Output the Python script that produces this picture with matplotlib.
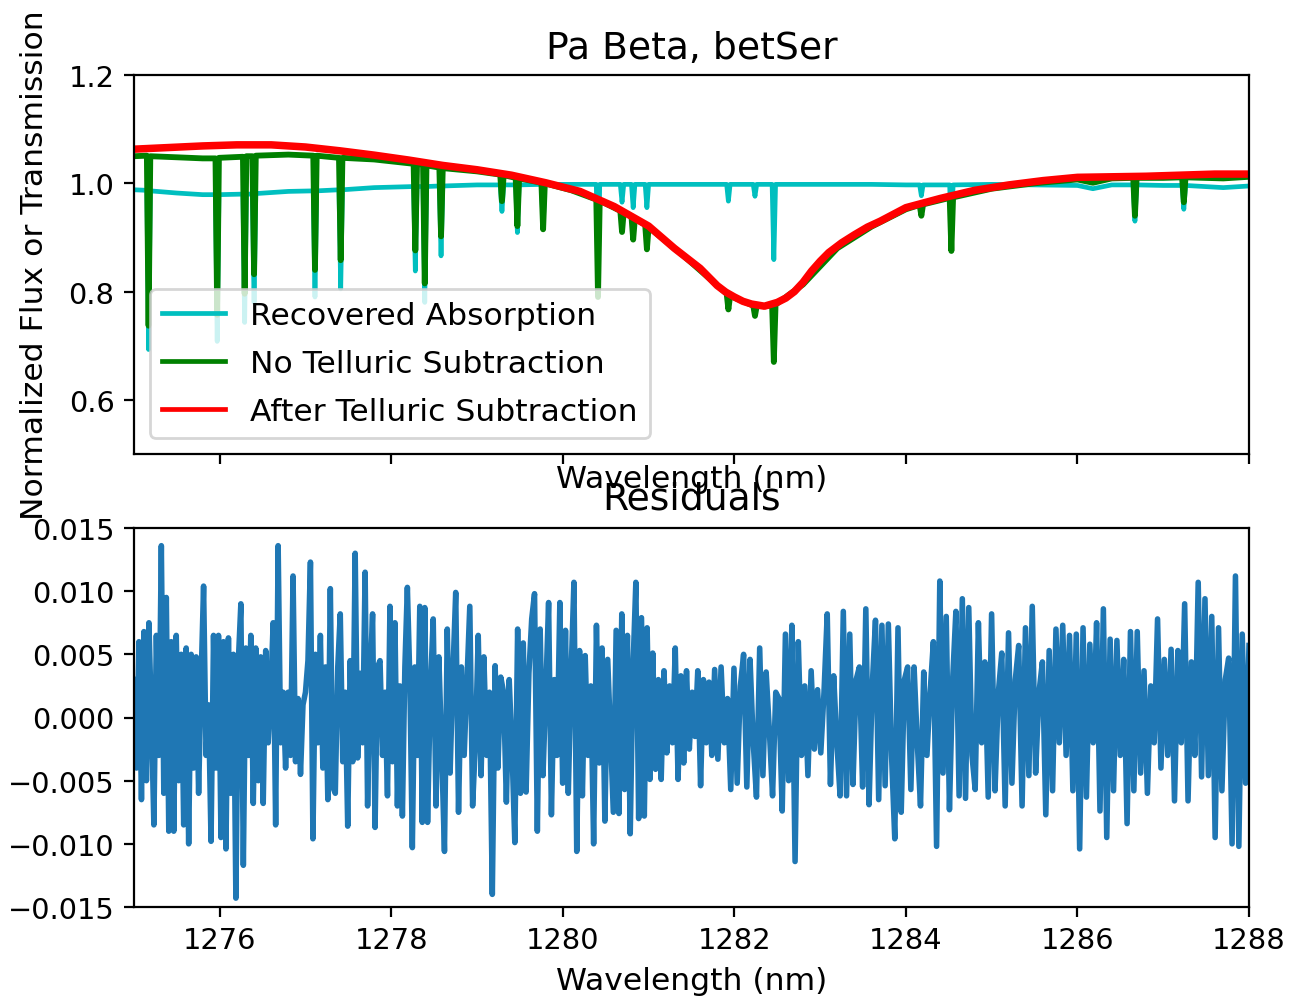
import matplotlib
matplotlib.use("Agg")
import matplotlib.pyplot as plt
import numpy as np

# ---------------- data ----------------
# Stellar spectrum after telluric correction (continuum + Pa beta line)
after_wl = [1275.0, 1275.4, 1275.8, 1276.2, 1276.6, 1277.0, 1277.4, 1277.8, 1278.2,
            1278.6, 1279.0, 1279.4, 1279.8, 1280.2, 1280.6, 1281.0, 1281.3, 1281.6,
            1281.8, 1281.9, 1282.0, 1282.1, 1282.2, 1282.35, 1282.5, 1282.6, 1282.7,
            1282.8, 1282.9, 1283.0, 1283.1, 1283.25, 1283.4, 1283.55, 1283.7, 1284.0,
            1284.4, 1284.8, 1285.2, 1285.6, 1286.0, 1286.4, 1286.8, 1287.2, 1287.6, 1288.0]
after_flux = [1.063, 1.066, 1.069, 1.071, 1.071, 1.067, 1.060, 1.052, 1.043,
              1.033, 1.025, 1.015, 1.001, 0.985, 0.957, 0.921, 0.880, 0.843,
              0.811, 0.799, 0.790, 0.782, 0.777, 0.773, 0.780, 0.788, 0.800,
              0.817, 0.838, 0.856, 0.872, 0.890, 0.905, 0.919, 0.930, 0.955,
              0.972, 0.987, 0.997, 1.005, 1.011, 1.012, 1.013, 1.015, 1.017, 1.017]

# Telluric transmission (recovered absorption) and uncorrected spectrum
tell_wl = [1275.00, 1275.15, 1275.17, 1275.19, 1275.50, 1275.80, 1275.95, 1275.97, 1275.99,
           1276.27, 1276.29, 1276.31, 1276.38, 1276.40, 1276.42, 1276.80, 1277.09, 1277.11,
           1277.13, 1277.39, 1277.41, 1277.43, 1277.80, 1278.26, 1278.28, 1278.30, 1278.37,
           1278.39, 1278.41, 1278.56, 1278.58, 1278.60, 1279.00, 1279.27, 1279.29, 1279.31,
           1279.45, 1279.47, 1279.49, 1279.75, 1279.77, 1279.79, 1280.10, 1280.39, 1280.41,
           1280.43, 1280.67, 1280.69, 1280.71, 1280.80, 1280.82, 1280.84, 1280.96, 1280.98,
           1281.00, 1281.40, 1281.91, 1281.93, 1281.95, 1282.22, 1282.24, 1282.26, 1282.44,
           1282.46, 1282.48, 1282.80, 1283.20, 1283.60, 1284.00, 1284.16, 1284.18, 1284.20,
           1284.51, 1284.53, 1284.55, 1285.00, 1285.50, 1286.00, 1286.18, 1286.40, 1286.65,
           1286.67, 1286.69, 1287.00, 1287.22, 1287.24, 1287.26, 1287.70, 1288.00]
recovered = [0.988, 0.987, 0.693, 0.986, 0.982, 0.979, 0.979, 0.708, 0.979,
             0.980, 0.743, 0.980, 0.980, 0.780, 0.981, 0.985, 0.986, 0.790,
             0.986, 0.988, 0.805, 0.988, 0.992, 0.994, 0.838, 0.994, 0.994,
             0.780, 0.994, 0.995, 0.866, 0.995, 0.997, 0.997, 0.948, 0.997,
             0.997, 0.909, 0.997, 0.998, 0.918, 0.998, 0.998, 0.998, 0.815,
             0.998, 0.998, 0.965, 0.998, 0.998, 0.955, 0.998, 0.998, 0.955,
             0.998, 0.998, 0.998, 0.967, 0.998, 0.998, 0.976, 0.998, 0.998,
             0.859, 0.998, 0.998, 0.998, 0.998, 0.997, 0.997, 0.977, 0.997,
             0.997, 0.900, 0.997, 0.998, 0.997, 0.996, 0.990, 0.997, 0.997,
             0.930, 0.997, 0.996, 0.996, 0.952, 0.996, 0.992, 0.995]
no_telluric = [1.050, 1.051, 0.737, 1.050, 1.048, 1.046, 1.046, 0.757, 1.047,
               1.049, 0.796, 1.050, 1.050, 0.832, 1.051, 1.053, 1.051, 0.840,
               1.051, 1.047, 0.858, 1.047, 1.044, 1.036, 0.876, 1.036, 1.034,
               0.815, 1.033, 1.029, 0.902, 1.028, 1.022, 1.016, 0.967, 1.015,
               1.010, 0.921, 1.009, 1.001, 0.915, 1.000, 0.987, 0.970, 0.790,
               0.968, 0.949, 0.910, 0.947, 0.939, 0.896, 0.935, 0.923, 0.878,
               0.919, 0.867, 0.796, 0.767, 0.792, 0.774, 0.755, 0.773, 0.774,
               0.670, 0.776, 0.813, 0.880, 0.920, 0.952, 0.960, 0.940, 0.961,
               0.973, 0.875, 0.974, 0.990, 1.000, 1.007, 1.001, 1.009, 1.010,
               0.940, 1.010, 1.010, 1.011, 0.965, 1.011, 1.009, 1.012]

# Residuals, read segment by segment
resid_edges = [1275.0, 1278.39, 1281.77, 1284.92, 1288.0]
resid_a = [0.003, -0.004, 0.006, -0.0065, 0.0068, -0.005, 0.0075, 0.000, -0.0085, 0.0065,
           -0.003, 0.0136, -0.006, 0.0095, -0.009, 0.006, -0.009, 0.0065, -0.005, 0.005,
           -0.0085, 0.0055, -0.010, 0.005, -0.004, 0.0048, -0.006, 0.003, 0.0104, -0.003,
           0.001, -0.0098, 0.0065, -0.004, 0.0065, -0.0095, 0.006, -0.0104, 0.0063, -0.006,
           0.005, -0.0143, 0.0045, 0.009, -0.0117, 0.0055, -0.003, 0.0065, -0.0068, 0.0055,
           -0.005, 0.0048, -0.0068, 0.0053, -0.002, 0.002, 0.0075, -0.0085, 0.0136, -0.002,
           0.002, -0.004, 0.002, -0.003, 0.0112, -0.0035, 0.0015, -0.0045, 0.001, 0.002,
           0.0045, 0.0123, -0.0096, 0.005, -0.002, 0.0065, -0.004, 0.004, -0.0065, 0.0102,
           -0.0055, -0.006, 0.004, 0.0082, -0.0035, 0.002, -0.0086, 0.0045, -0.0035, 0.013,
           -0.0032, 0.0035, -0.002, 0.0115, -0.007, 0.003, 0.0082, -0.0087, 0.004, 0.0045,
           -0.003, 0.002, -0.0062, 0.0088, -0.0035, 0.0075, -0.007, 0.0025, -0.0078, 0.004,
           0.0103, 0.003, -0.0103, 0.004, -0.003, 0.0088, -0.0083]
resid_b = [0.0087, -0.0083, 0.0022, 0.0078, -0.007, 0.0048, -0.0025, -0.0106, 0.007, -0.0044,
           0.0035, 0.0099, -0.0075, 0.004, -0.003, 0.0028, 0.0088, -0.007, -0.002, 0.0065,
           -0.0046, 0.0048, -0.003, 0.002, -0.014, 0.0041, -0.004, 0.0032, 0.002, -0.0067,
           0.003, -0.0025, -0.0099, 0.007, -0.006, 0.0059, -0.0059, 0.0035, 0.0078, 0.0098,
           -0.009, 0.007, -0.0046, 0.002, 0.0091, -0.0077, 0.003, -0.003, 0.0091, -0.0052,
           0.0069, -0.006, 0.0035, 0.0107, -0.0106, 0.0053, -0.0062, 0.0049, -0.003, 0.0025,
           -0.010, 0.0073, -0.0036, 0.0055, -0.0082, 0.0046, -0.0015, -0.0075, 0.0069, -0.0076,
           0.0082, -0.0057, 0.0065, -0.0092, 0.004, 0.0107, -0.008, 0.0079, -0.0078, 0.0071,
           -0.0049, 0.0051, -0.0041, 0.003, -0.0049, 0.0037, -0.0028, 0.0025, -0.002, 0.0055,
           -0.0049, 0.0033, -0.0036, 0.0037, -0.0025, 0.002, -0.0015, 0.0037, -0.0054, 0.003,
           -0.002, 0.0028, -0.003]
resid_c = [0.0038, -0.0033, 0.004, -0.002, 0.0015, -0.0057, 0.0039, -0.0052, 0.0025, 0.005,
           -0.0055, 0.0046, -0.002, -0.0063, 0.0055, -0.0046, 0.0036, -0.001, -0.0062, 0.002,
           0.0015, -0.0074, 0.0066, -0.005, 0.0073, -0.0114, 0.006, -0.003, 0.0025, -0.0046,
           0.0037, -0.0025, 0.0022, -0.0028, 0.002, 0.0082, -0.0053, 0.0033, -0.002, -0.0062,
           0.0084, -0.0062, 0.0066, -0.0053, 0.003, 0.004, -0.0055, 0.0086, -0.0069, 0.0025,
           0.0077, -0.0065, 0.0073, -0.0054, 0.0074, -0.003, -0.0096, 0.0071, -0.0075, 0.003,
           0.004, -0.0057, 0.004, -0.002, -0.007, 0.0036, -0.003, 0.002, 0.006, -0.0102,
           0.0108, -0.0044, 0.008, -0.0073, 0.003, 0.0084, -0.0062, 0.0094, -0.0064, 0.0087,
           -0.003, -0.0057, 0.0075, -0.002]
resid_d = [0.0044, -0.0063, 0.0082, -0.0058, 0.002, 0.0051, -0.007, 0.0067, -0.0052, 0.003,
           0.0057, -0.007, 0.0071, -0.0046, 0.0088, -0.0044, 0.002, 0.0044, -0.0077, 0.0053,
           -0.0058, 0.007, -0.002, 0.0073, -0.003, 0.0065, -0.0058, 0.0066, -0.0104, 0.0071,
           -0.0063, 0.0058, -0.002, 0.0075, -0.0074, 0.0086, -0.0095, 0.0062, -0.0058, 0.0061,
           -0.003, 0.0046, -0.0084, 0.0068, -0.0058, 0.0068, -0.0044, 0.0037, -0.006, 0.0025,
           -0.002, 0.0078, -0.004, 0.0046, -0.003, 0.0054, -0.0066, 0.0053, -0.002, 0.009,
           -0.0066, 0.0044, -0.003, 0.0107, -0.0047, 0.0094, -0.0046, 0.008, -0.0095, 0.0071,
           -0.0058, 0.003, 0.0047, -0.010, 0.0112, -0.0102, 0.0066, -0.0052, 0.0057]

labels = ["Recovered Absorption", "No Telluric Subtraction", "After Telluric Subtraction"]
x_ticks = [1276, 1278, 1280, 1282, 1284, 1286, 1288]
top_yticks = [0.6, 0.8, 1.0, 1.2]
bot_yticks = [-0.015, -0.010, -0.005, 0.000, 0.005, 0.010, 0.015]

# ---------------- build residual wavelength axis ----------------
segments = [resid_a, resid_b, resid_c, resid_d]
resid_wl = []
resid = []
for i, seg in enumerate(segments):
    last = i == len(segments) - 1
    resid_wl.extend(np.linspace(resid_edges[i], resid_edges[i + 1], len(seg), endpoint=last))
    resid.extend(seg)

# ---------------- figure ----------------
W, H = 1291, 1003
FS = 11.3      # label / legend font size
TFS = 13.6     # title font size
TICKFS = 10.4  # tick label font size

fig = plt.figure(figsize=(W / 200, H / 200), dpi=200)
ax1 = fig.add_axes([134 / W, 1 - 455 / H, (1249 - 134) / W, (455 - 76) / H])
ax2 = fig.add_axes([134 / W, 1 - 908 / H, (1249 - 134) / W, (908 - 529) / H], sharex=ax1)

ax1.plot(tell_wl, recovered, color="c", lw=1.7, label=labels[0])
ax1.plot(tell_wl, no_telluric, color="g", lw=2.1, label=labels[1])
ax1.plot(after_wl, after_flux, color="r", lw=2.7, label=labels[2])
ax1.set_xlim(1275, 1288)
ax1.set_ylim(0.5, 1.2)
ax1.set_yticks(top_yticks)
ax1.set_xticks(x_ticks)
ax1.tick_params(labelbottom=False, labelsize=TICKFS)
ax1.set_title("Pa Beta, betSer", fontsize=TFS)
ax1.set_xlabel("Wavelength (nm)", fontsize=FS, labelpad=0)
ax1.set_ylabel("Normalized Flux or Transmission", fontsize=FS, labelpad=7)
leg = ax1.legend(loc="lower left", fontsize=FS, labelspacing=0.6)
for ln in leg.get_lines():
    ln.set_linewidth(1.7)

ax2.plot(resid_wl, resid, color="C0", lw=2.0)
ax2.set_ylim(-0.015, 0.015)
ax2.set_yticks(bot_yticks)
ax2.set_xticks(x_ticks)
ax2.tick_params(labelsize=TICKFS)
ax2.set_title("Residuals", fontsize=TFS, pad=7)
ax2.set_xlabel("Wavelength (nm)", fontsize=FS)

fig.savefig("out.png", dpi=200)
